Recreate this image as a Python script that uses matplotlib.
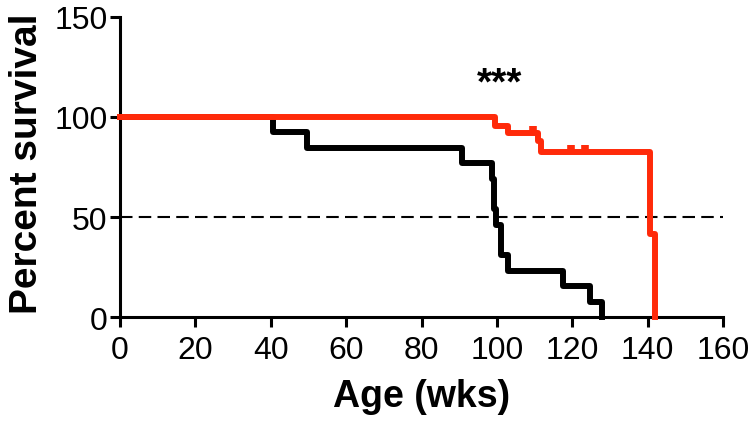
import matplotlib
matplotlib.use("Agg")
import matplotlib.pyplot as plt

plt.rcParams['font.family'] = ['Liberation Sans', 'DejaVu Sans']

# black group (step times in weeks, percent survival)
black_t = [0, 40.6, 49.6, 90.7, 98.6, 99.2, 99.9, 101.2, 103.0, 117.5, 124.7, 127.9]
black_s = [100, 92.3, 84.6, 76.9, 69.2, 53.8, 46.2, 30.8, 23.1, 15.4, 7.7, 0]

# red group
red_t = [0, 99.5, 103.0, 111.0, 111.8, 140.6, 142.0]
red_s = [100, 95.7, 91.8, 88.0, 82.6, 41.3, 0]

# censored points on red curve
cens_t = [109.6, 119.8, 123.4]
cens_s = [91.8, 82.6, 82.6]

xticks = [0, 20, 40, 60, 80, 100, 120, 140, 160]
yticks = [0, 50, 100, 150]

red = '#ff2a0a'

fig = plt.figure(figsize=(7.5, 4.27), dpi=100)
ax = fig.add_axes([0.16, 0.255, 0.804, 0.703])

ax.axhline(50, color='black', lw=1.5, dashes=(6, 3), zorder=1)
ax.step(black_t, black_s, where='post', color='black', lw=4.3, clip_on=False, zorder=3)
ax.step(red_t, red_s, where='post', color=red, lw=4.3, clip_on=False, zorder=4)
ax.vlines(cens_t, cens_s, [s + 3.6 for s in cens_s], color=red, lw=5.5, zorder=4)

ax.text(100.8, 116.5, '***', ha='center', va='center', fontsize=28, fontweight='bold')

ax.set_xlim(0, 160)
ax.set_ylim(0, 150)
ax.set_xticks(xticks)
ax.set_yticks(yticks)
for s in ['top', 'right']:
    ax.spines[s].set_visible(False)
for s in ['left', 'bottom']:
    ax.spines[s].set_linewidth(2.2)
ax.tick_params(direction='out', length=7, width=2.2, labelsize=23)
ax.tick_params(axis='y', pad=2)
ax.tick_params(axis='x', pad=6)

ax.set_xlabel('Age (wks)', fontsize=27, fontweight='bold', labelpad=9)
ax.set_ylabel('Percent survival', fontsize=28, fontweight='bold')
ax.yaxis.set_label_coords(-0.125, 0.515)

fig.savefig('out.png', dpi=100)
